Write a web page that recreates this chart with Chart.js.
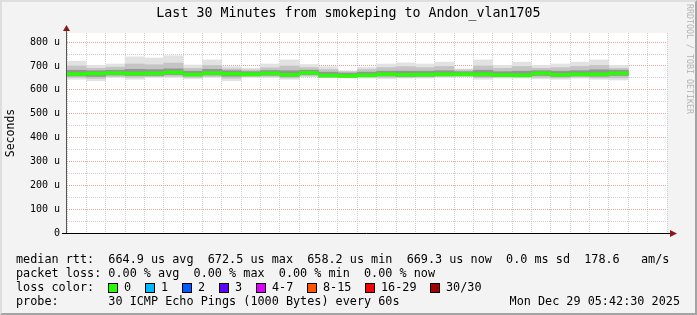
<!DOCTYPE html>
<html>
<head>
<meta charset="utf-8">
<script src="https://cdn.jsdelivr.net/npm/chart.js@4/dist/chart.umd.min.js"></script>
<style>
  body { margin: 0; background: #f3f3f3; }
  #wrap { position: relative; width: 697px; height: 315px; overflow: hidden; font-family: "DejaVu Sans Mono", monospace; color: #000; }
  #chart { position: absolute; left: 0; top: 0; }
  .frame { position: absolute; left: 0; top: 0; width: 697px; height: 315px; box-sizing: border-box;
           border: 2px solid; border-color: #dedede #a4a4a4 #a4a4a4 #dedede; pointer-events: none; }
  .title { position: absolute; left: 0; top: 5px; width: 697px; text-align: center; font-size: 13.3px; line-height: 16px; }
  .mark { position: absolute; left: 681px; top: 4px; font-size: 8.3px; line-height: 10px; color: #b4b4b4;
          transform-origin: 0 0; transform: translate(14px, 0) rotate(90deg); white-space: pre; }
  .t { position: absolute; white-space: pre; font-size: 11.8px; line-height: 14px; }
  .box { position: absolute; width: 8px; height: 8px; border: 1px solid #000; }
</style>
</head>
<body>
<div id="wrap">
  <canvas id="chart" width="697" height="315"></canvas>
  <div class="title">Last 30 Minutes from smokeping to Andon_vlan1705</div>
  <div class="mark">RRDTOOL / TOBI OETIKER</div>
  <div class="t" style="left:16px;top:252px">median rtt:  664.9 us avg  672.5 us max  658.2 us min  669.3 us now  0.0 ms sd  178.6   am/s</div>
  <div class="t" style="left:16px;top:266px">packet loss: 0.00 % avg  0.00 % max  0.00 % min  0.00 % now</div>
  <div class="t" style="left:16px;top:280px">loss color:</div>
  <div id="lossKey"></div>
  <div class="t" style="left:16px;top:294px">probe:       30 ICMP Echo Pings (1000 Bytes) every 60s</div>
  <div class="t" style="right:17px;top:294px">Mon Dec 29 05:42:30 2025</div>
  <div class="frame"></div>
</div>
<script>
// minute (past 05:00) at which each 60s step ends
const stepEnd = [13, 14, 15, 16, 17, 18, 19, 20, 21, 22, 23, 24, 25, 26, 27, 28, 29, 30, 31, 32, 33, 34, 35, 36, 37, 38, 39, 40, 41];

// median rtt, microseconds
const rttMedian = [666, 668, 670, 668, 669, 672.5, 664, 670, 667, 665, 669, 663, 671, 660, 658.2,
                   661, 665, 663, 664, 665, 665, 665, 662, 661, 669, 663, 665, 665, 669.3];
// smoke: outer (all pings), middle and inner bands
const rttMax = [720, 702, 708, 738, 733, 743, 704, 725, 697, 690, 708, 725, 706, 697, 680,
                694, 708, 713, 708, 716, 688, 725, 702, 716, 702, 708, 716, 725, 702];
const rttMin = [644, 638, 652, 644, 652, 652, 646, 652, 638, 652, 652, 644, 655, 655, 655,
                649, 646, 649, 649, 652, 655, 644, 649, 649, 646, 644, 649, 644, 641];
const midHi = [700, 690, 695, 708, 705, 712, 690, 702, 688, 683, 692, 700, 693, 685, 676,
               685, 693, 697, 693, 698, 683, 700, 690, 698, 690, 693, 698, 702, 690];
const midLo = [652, 648, 656, 652, 655, 657, 652, 656, 648, 655, 656, 650, 658, 652, 651,
               652, 652, 652, 653, 655, 656, 651, 653, 652, 652, 650, 653, 650, 650];
const coreHi = [682, 680, 682, 686, 685, 688, 678, 686, 680, 676, 681, 680, 682, 674, 670,
                674, 678, 678, 678, 680, 676, 682, 676, 678, 680, 678, 680, 684, 682];
const coreLo = [658, 656, 662, 660, 660, 664, 658, 662, 657, 659, 661, 656, 664, 654, 653,
                655, 658, 656, 657, 659, 660, 657, 656, 655, 660, 656, 658, 657, 660];

const xLabelMinutes = [15, 20, 25, 30, 35, 40];
const yLabelStep = 100;

const lossLabels = ['0', '1', '2', '3', '4-7', '8-15', '16-29', '30/30'];
const lossColors = ['#26ff00', '#00b8ff', '#0059ff', '#5e00ff', '#dd00ff', '#ff5500', '#ff0000', '#a10000'];
const lossBoxX = [108, 145, 182, 219, 256, 307, 365, 430];

const MED_HALF = 6;
const MONO = 'DejaVu Sans Mono';
const GRID_MINOR = '#cfcfcf';
const GRID_MAJOR = '#e4a0a0';

// loss colour key
const key = document.getElementById('lossKey');
lossLabels.forEach((lab, i) => {
  const b = document.createElement('div');
  b.className = 'box';
  b.style.left = lossBoxX[i] + 'px';
  b.style.top = '283px';
  b.style.background = lossColors[i];
  key.appendChild(b);
  const t = document.createElement('div');
  t.className = 't';
  t.style.left = (lossBoxX[i] + 16) + 'px';
  t.style.top = '280px';
  t.textContent = lab;
  key.appendChild(t);
});

const band = (lo, hi) => stepEnd.map((t, i) => ({ x: t - 0.5, y: [lo[i], hi[i]] }));

const plotFrame = {
  id: 'plotFrame',
  beforeDraw(c) {
    const a = c.chartArea, ctx = c.ctx;
    ctx.save();
    ctx.fillStyle = '#ffffff';
    ctx.fillRect(a.left, a.top, a.right - a.left, a.bottom - a.top);
    ctx.restore();
  },
  afterDraw(c) {
    const { left, right, top, bottom } = c.chartArea, ctx = c.ctx;
    ctx.save();
    ctx.lineWidth = 1;
    ctx.strokeStyle = '#000';
    ctx.beginPath();
    ctx.moveTo(left - 5, bottom + 0.5);
    ctx.lineTo(right + 4, bottom + 0.5);
    ctx.stroke();
    ctx.strokeStyle = '#555';
    ctx.beginPath();
    ctx.moveTo(left - 0.5, bottom);
    ctx.lineTo(left - 0.5, top - 3);
    ctx.stroke();
    ctx.fillStyle = '#8c1717';
    ctx.beginPath();
    ctx.moveTo(right + 3, bottom - 3);
    ctx.lineTo(right + 10, bottom + 0.5);
    ctx.lineTo(right + 3, bottom + 4);
    ctx.closePath();
    ctx.fill();
    ctx.beginPath();
    ctx.moveTo(left - 4, top - 2);
    ctx.lineTo(left - 0.5, top - 8);
    ctx.lineTo(left + 3, top - 2);
    ctx.closePath();
    ctx.fill();
    ctx.restore();
  }
};

const pad2 = n => String(n).padStart(2, '0');

// Chart.js paints the first dataset on top, so the median comes first
new Chart(document.getElementById('chart'), {
  type: 'bar',
  data: {
    datasets: [
      { data: band(rttMedian.map(m => m - MED_HALF), rttMedian.map(m => m + MED_HALF)), backgroundColor: lossColors[0] },
      { data: band(coreLo, coreHi), backgroundColor: '#959595' },
      { data: band(midLo, midHi), backgroundColor: '#c4c4c4' },
      { data: band(rttMin, rttMax), backgroundColor: '#e2e2e2' }
    ]
  },
  plugins: [plotFrame],
  options: {
    responsive: false,
    animation: false,
    layout: { padding: { top: 33, right: 30, bottom: 62, left: 0 } },
    plugins: { legend: { display: false }, tooltip: { enabled: false } },
    datasets: { bar: { grouped: false, barPercentage: 1, categoryPercentage: 1, borderWidth: 0, borderSkipped: false } },
    scales: {
      x: {
        type: 'linear', min: 12.5, max: 42.5, z: 1,
        afterFit(s) { s.height = 20; },
        grid: { drawTicks: false, lineWidth: 1, color: ctx => xLabelMinutes.includes(ctx.tick && ctx.tick.value) ? GRID_MAJOR : GRID_MINOR },
        border: { display: false, dash: [1, 1] },
        ticks: {
          stepSize: 1, includeBounds: false, autoSkip: false, maxRotation: 0, padding: 4,
          color: '#000', font: { family: MONO, size: 10 },
          callback: v => xLabelMinutes.includes(v) ? '05:' + pad2(v) : ''
        }
      },
      y: {
        min: 0, max: 838, z: 1,
        afterFit(s) { s.width = 67; },
        grid: { drawTicks: false, lineWidth: 1, color: ctx => (ctx.tick && ctx.tick.value % yLabelStep === 0) ? GRID_MAJOR : GRID_MINOR },
        border: { display: false, dash: [1, 1] },
        title: { display: true, text: 'Seconds', color: '#000', font: { family: MONO, size: 11.5 }, padding: { top: 4, bottom: 0 } },
        ticks: {
          stepSize: 50, includeBounds: false, autoSkip: false, padding: 7,
          color: '#000', font: { family: MONO, size: 10 },
          callback: v => v % yLabelStep !== 0 ? '' : (v === 0 ? '0' : v + ' u')
        }
      }
    }
  }
});
</script>
</body>
</html>
